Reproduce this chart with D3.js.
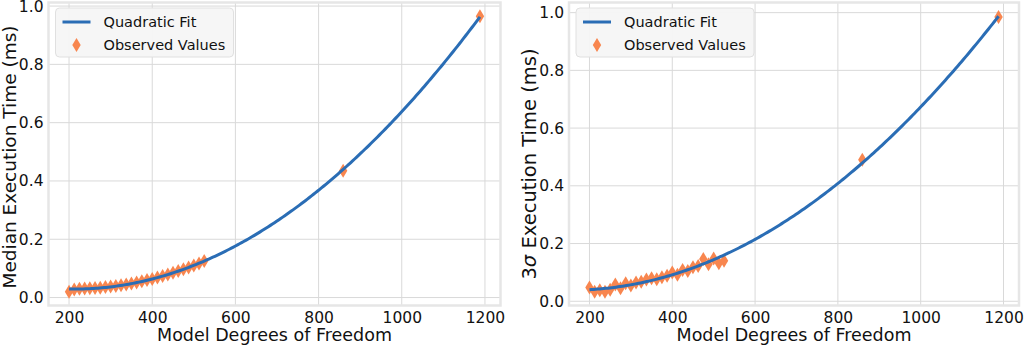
<!DOCTYPE html>
<html><head><meta charset="utf-8">
<script src="https://cdn.jsdelivr.net/npm/d3@7"></script>
<style>
html,body{margin:0;padding:0;background:#fff;}
svg{display:block;font-family:"DejaVu Sans",sans-serif;}
</style></head>
<body><svg id="c" width="1024" height="345"></svg>
<script>
// ---- data ----
const dofSmall = [200,212.5,225,237.5,250,262.5,275,287.5,300,312.5,325,337.5,350,362.5,375,387.5,400,412.5,425,437.5,450,462.5,475,487.5,500,512.5,525];
const dofAll = dofSmall.concat([859,1188]);
const medianTimes = [0.020,0.028,0.030,0.031,0.032,0.033,0.034,0.036,0.038,0.040,0.042,0.045,0.048,0.052,0.056,0.060,0.064,0.069,0.074,0.079,0.085,0.091,0.097,0.103,0.110,0.117,0.125,0.435,0.965];
const sigmaTimes = [0.048,0.033,0.038,0.033,0.040,0.058,0.045,0.062,0.055,0.065,0.068,0.075,0.080,0.076,0.083,0.088,0.100,0.092,0.108,0.105,0.118,0.122,0.146,0.128,0.148,0.132,0.140,0.490,0.985];
const xTicks = [200,400,600,800,1000,1200];
const yTicks = [0.0,0.2,0.4,0.6,0.8,1.0];
const legendLabels = ["Quadratic Fit","Observed Values"];
const panels = [
  {ys: medianTimes, ylabel: "Median Execution Time (ms)", left: 48.5, right: 500.5, ylabX: 15.5, ylabY: 157, ylabSize: 18.5},
  {ys: sigmaTimes, ylabel: null, left: 569, right: 1019, ylabX: 535.5, ylabY: 164, ylabSize: 19.5}
];
const lineColor = "#2a6db5", markColor = "#f8864f";

function quadFit(xs, ys){
  let S=[0,0,0,0,0], T=[0,0,0];
  xs.forEach((x,i)=>{ let p=1; for(let k=0;k<5;k++){S[k]+=p; if(k<3) T[k]+=p*ys[i]; p*=x;} });
  const M=[[S[0],S[1],S[2],T[0]],[S[1],S[2],S[3],T[1]],[S[2],S[3],S[4],T[2]]];
  for(let i=0;i<3;i++){ for(let j=i+1;j<3;j++){ const f=M[j][i]/M[i][i]; for(let k=i;k<4;k++) M[j][k]-=f*M[i][k]; } }
  const r=[0,0,0];
  for(let i=2;i>=0;i--){ let s=M[i][3]; for(let k=i+1;k<3;k++) s-=M[i][k]*r[k]; r[i]=s/M[i][i]; }
  return x=>r[0]+r[1]*x+r[2]*x*x;
}

const svg = d3.select("#c");
const pTop = 2.5, pBottom = 305.5;
const diamond = "M0,-7 L4.2,0 L0,7 L-4.2,0 Z";

panels.forEach((p, pi) => {
  const f = quadFit(dofAll, p.ys);
  const xmin = d3.min(dofAll), xmax = d3.max(dofAll);
  const fitX = d3.range(0, 201).map(i => xmin + (xmax - xmin) * i / 200);
  const fitY = fitX.map(f);
  const allY = p.ys.concat(fitY);
  const ylo = d3.min(allY), yhi = d3.max(allY), ym = (yhi - ylo) * 0.05;
  const xm = (xmax - xmin) * 0.05;
  const x = d3.scaleLinear().domain([xmin - xm, xmax + xm]).range([p.left, p.right]);
  const y = d3.scaleLinear().domain([ylo - ym, yhi + ym]).range([pBottom, pTop]);
  const g = svg.append("g");

  g.selectAll(".gx").data(xTicks).join("line")
    .attr("x1", d => x(d)).attr("x2", d => x(d)).attr("y1", pTop).attr("y2", pBottom)
    .attr("stroke", "#d9d9d9").attr("stroke-width", 1);
  g.selectAll(".gy").data(yTicks).join("line")
    .attr("x1", p.left).attr("x2", p.right).attr("y1", d => y(d)).attr("y2", d => y(d))
    .attr("stroke", "#d9d9d9").attr("stroke-width", 1);
  g.append("rect").attr("x", p.left).attr("y", pTop).attr("width", p.right - p.left).attr("height", pBottom - pTop)
    .attr("fill", "none").attr("stroke", "#e6e6e6").attr("stroke-width", 2.5);

  const xa = g.append("g").attr("transform", `translate(0,${pBottom})`)
    .call(d3.axisBottom(x).tickValues(xTicks).tickFormat(d3.format("d")).tickSize(0).tickPadding(6));
  xa.select(".domain").remove();
  xa.selectAll("text").attr("font-size", 15.5).attr("fill", "#111").attr("font-family", "DejaVu Sans");
  const ya = g.append("g").attr("transform", `translate(${p.left},0)`)
    .call(d3.axisLeft(y).tickValues(yTicks).tickFormat(d3.format(".1f")).tickSize(0).tickPadding(5));
  ya.select(".domain").remove();
  ya.selectAll("text").attr("font-size", 15.5).attr("fill", "#111").attr("font-family", "DejaVu Sans");

  g.append("text").attr("x", (p.left + p.right) / 2).attr("y", 341).attr("text-anchor", "middle")
    .attr("font-size", 17.5).attr("fill", "#111").text("Model Degrees of Freedom");
  const yl = g.append("text").attr("transform", `translate(${p.ylabX},${p.ylabY}) rotate(-90)`)
    .attr("text-anchor", "middle").attr("font-size", p.ylabSize).attr("fill", "#111");
  if (p.ylabel) yl.text(p.ylabel);
  else {
    yl.append("tspan").text("3");
    yl.append("tspan").attr("font-style", "italic").text("σ");
    yl.append("tspan").text(" Execution Time (ms)");
  }

  g.selectAll(".pt").data(dofAll).join("path")
    .attr("d", diamond).attr("fill", markColor)
    .attr("transform", (d, i) => `translate(${x(d)},${y(p.ys[i])})`);
  g.append("path").datum(fitX)
    .attr("d", d3.line().x(d => x(d)).y((d, i) => y(fitY[i])))
    .attr("fill", "none").attr("stroke", lineColor).attr("stroke-width", 3);

  const lx = p.left + 7, ly = 8;
  const lg = g.append("g");
  lg.append("rect").attr("x", lx).attr("y", ly).attr("width", 178).attr("height", 49).attr("rx", 4)
    .attr("fill", "#f5f5f5").attr("fill-opacity", 0.95).attr("stroke", "#e0e0e0");
  lg.append("line").attr("x1", lx + 7).attr("x2", lx + 35).attr("y1", ly + 14).attr("y2", ly + 14)
    .attr("stroke", lineColor).attr("stroke-width", 3);
  lg.append("path").attr("d", diamond).attr("fill", markColor).attr("transform", `translate(${lx + 21},${ly + 37})`);
  lg.selectAll(".lt").data(legendLabels).join("text")
    .attr("x", lx + 48).attr("y", (d, i) => ly + 14 + i * 23).attr("dominant-baseline", "central")
    .attr("font-size", 14.5).attr("fill", "#111").text(d => d);
});
</script></body></html>
